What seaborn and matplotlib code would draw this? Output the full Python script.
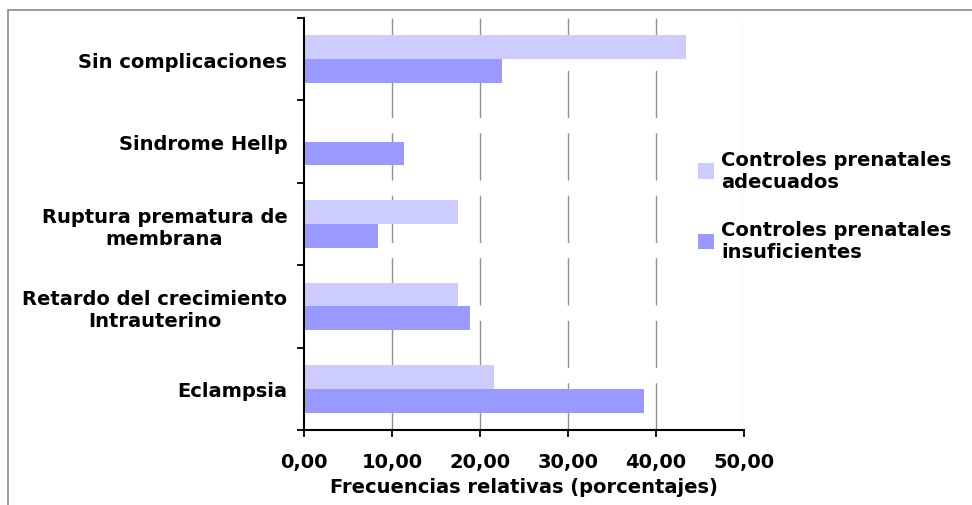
import numpy as np
import pandas as pd
import matplotlib
matplotlib.use("Agg")
import matplotlib.pyplot as plt
from matplotlib.patches import Rectangle
import seaborn as sns

# datos
categorias = ["Sin complicaciones", "Sindrome Hellp", "Ruptura prematura de\nmembrana",
              "Retardo del crecimiento\nIntrauterino", "Eclampsia"]
adecuados = [43.4, 0.0, 17.5, 17.5, 21.6]
insuficientes = [22.5, 11.4, 8.4, 18.9, 38.6]
series = ["Controles prenatales\nadecuados", "Controles prenatales\ninsuficientes"]
xticks = [0, 10, 20, 30, 40, 50]

sns.set_style("white")
plt.rcParams['font.family'] = ['DejaVu Sans']
plt.rcParams['font.weight'] = 'bold'
plt.rcParams['text.color'] = 'black'
plt.rcParams['axes.labelcolor'] = 'black'
plt.rcParams['xtick.color'] = 'black'
plt.rcParams['ytick.color'] = 'black'

df = pd.DataFrame({
    "categoria": categorias * 2,
    "valor": adecuados + insuficientes,
    "serie": [series[0]] * len(categorias) + [series[1]] * len(categorias),
})

fig = plt.figure(figsize=(9.72, 5.06), dpi=100)
ax = fig.add_axes([304 / 972, 1 - 431 / 506, 440 / 972, 412 / 506])

sns.barplot(data=df, x="valor", y="categoria", hue="serie", order=categorias,
            hue_order=series, palette=["#CCCCFF", "#9999FF"], orient="h",
            width=0.58, saturation=1, linewidth=0, edgecolor="none", ax=ax, legend=True)

fs = 14
ax.set_xlim(0, 50)
ax.set_ylim(4.5, -0.5)
ax.set_xticks(xticks)
ax.set_xticklabels([f"{v:.2f}".replace(".", ",") for v in xticks], fontsize=fs, fontweight="bold")
ax.set_yticks(range(len(categorias)))
ax.set_yticklabels(categorias, fontsize=fs, fontweight="bold", multialignment="center")
ax.set_yticks(np.arange(-0.5, len(categorias), 1), minor=True)
ax.tick_params(axis="y", which="major", left=True, length=0, pad=12)
ax.tick_params(axis="y", which="minor", left=True, length=5, width=1.3, color="black", direction="out")
ax.tick_params(axis="x", bottom=True, length=5, width=1.3, color="black", direction="out", pad=11)
ax.set_ylabel("")
ax.set_xlabel("Frecuencias relativas (porcentajes)", fontsize=fs, fontweight="bold", labelpad=4)

for s in ["top", "right"]:
    ax.spines[s].set_visible(False)
for s in ["left", "bottom"]:
    ax.spines[s].set_color("black")
    ax.spines[s].set_linewidth(1.5)

ax.set_axisbelow(True)
for v in xticks[1:-1]:
    ax.axvline(v, color="#909090", lw=1, linestyle=(0, (34, 11)), zorder=0)
ax.axvline(50, color="#e8e8e8", lw=1, zorder=0)

leg = ax.legend(loc="center left", bbox_to_anchor=(0.855, 0.545), frameon=False,
                handlelength=0.85, handleheight=0.85, handletextpad=0.35,
                labelspacing=1.5, prop={"weight": "bold", "size": fs})
leg.set_title(None)

# marco exterior del grafico
fig.patches.append(Rectangle((8 / 972, -0.1), 1.2, 1 - 11 / 506 + 0.1, transform=fig.transFigure,
                             fill=False, edgecolor="#8a8a8a", lw=1.2))

fig.savefig("out.png", dpi=100)
